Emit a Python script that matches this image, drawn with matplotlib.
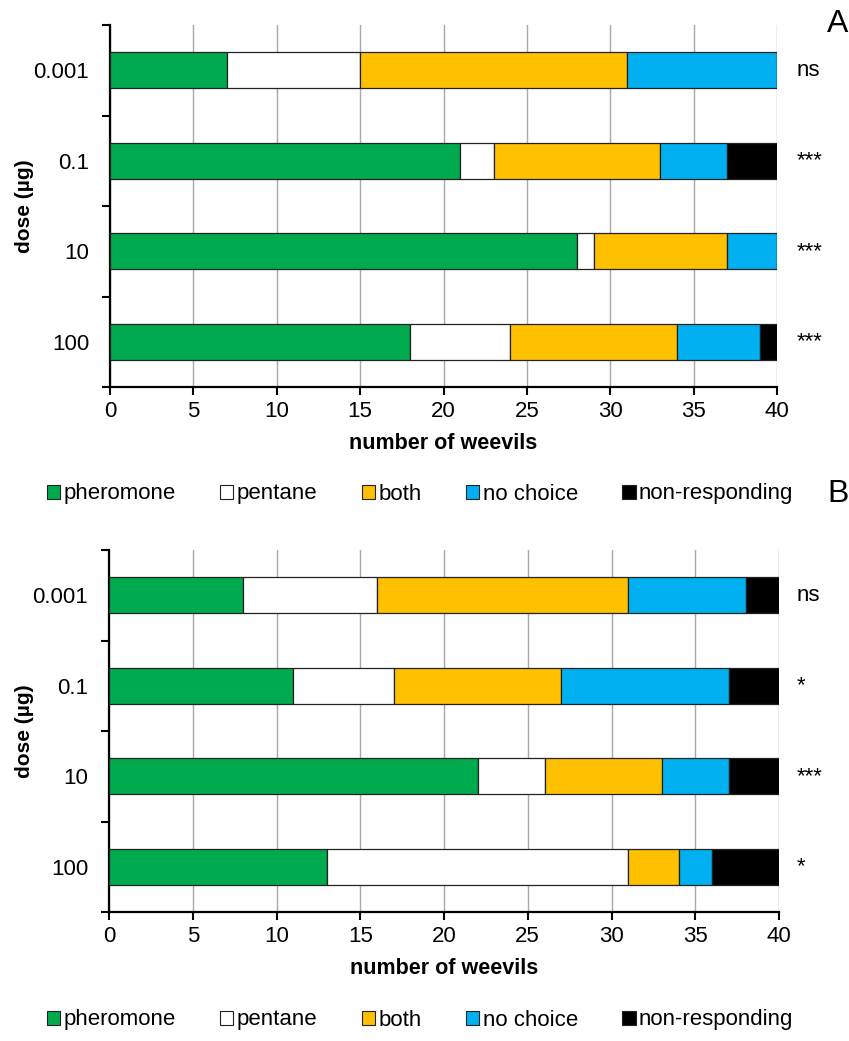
import matplotlib
matplotlib.use("Agg")
import matplotlib.pyplot as plt
import matplotlib.transforms as mtransforms
import numpy as np
from matplotlib.patches import Patch

plt.rcParams['font.family'] = ['Liberation Sans', 'DejaVu Sans']

doses = ["0.001", "0.1", "10", "100"]
categories = ["pheromone", "pentane", "both", "no choice", "non-responding"]
colors = ["#00AA4E", "#FFFFFF", "#FFC000", "#00B0F0", "#000000"]

# Panel A
A_pheromone = [7, 21, 28, 18]
A_pentane = [8, 2, 1, 6]
A_both = [16, 10, 8, 10]
A_nochoice = [9, 4, 3, 5]
A_nonresp = [0, 3, 0, 1]
A_sig = ["ns", "***", "***", "***"]

# Panel B
B_pheromone = [8, 11, 22, 13]
B_pentane = [8, 6, 4, 18]
B_both = [15, 10, 7, 3]
B_nochoice = [7, 10, 4, 2]
B_nonresp = [2, 3, 3, 4]
B_sig = ["ns", "*", "***", "*"]

xticks = [0, 5, 10, 15, 20, 25, 30, 35, 40]

W, H = 849, 1041
fig = plt.figure(figsize=(W / 100, H / 100), dpi=100)


def panel(rect, series, sig, letter, letter_y, legend_y):
    ax = fig.add_axes(rect)
    y = np.arange(len(doses))
    left = np.zeros(len(doses))
    for vals, c in zip(series, colors):
        vals = np.array(vals, dtype=float)
        ax.barh(y, vals, left=left, height=0.4, color=c, edgecolor="#222222",
                linewidth=0.9, zorder=3)
        left += vals
    ax.set_xlim(0, 40)
    ax.set_ylim(3.5, -0.5)
    ax.set_xticks(xticks)
    ax.set_xticklabels([str(t) for t in xticks], fontsize=16)
    ax.xaxis.grid(True, color="#a8a8a8", linewidth=1.0, zorder=0)
    ax.set_axisbelow(True)
    ax.set_yticks([-0.5, 0.5, 1.5, 2.5, 3.5])
    ax.set_yticklabels([])
    ax.set_yticks(y, minor=True)
    ax.set_yticklabels(doses, minor=True, fontsize=16)
    ax.tick_params(axis="y", which="minor", length=0, pad=15)
    ax.tick_params(axis="y", which="major", length=6, width=1.5, direction="out")
    ax.tick_params(axis="x", length=6, width=1.5, direction="out", pad=4)
    for s in ["top", "right"]:
        ax.spines[s].set_visible(False)
    for s in ["left", "bottom"]:
        ax.spines[s].set_linewidth(1.6)
    ax.set_xlabel("number of weevils", fontsize=15.5, fontweight="bold", labelpad=8)
    ax.set_ylabel("dose (µg)", fontsize=15, fontweight="bold")
    ax.yaxis.set_label_coords((34 - rect[0] * W) / (rect[2] * W), 0.5)
    trans = mtransforms.blended_transform_factory(fig.transFigure, ax.transData)
    for yi, s in zip(y, sig):
        ax.text(797 / W, yi, s, transform=trans, fontsize=16, va="center", ha="left")
    fig.text(838 / W, letter_y, letter, fontsize=23, ha="center", va="center")
    handles = [Patch(facecolor=c, edgecolor="#222222", linewidth=0.8) for c in colors]
    fig.legend(handles, categories, loc="center", bbox_to_anchor=(420 / W, legend_y),
               ncol=5, frameon=False, fontsize=16, handlelength=0.6,
               handleheight=0.6, handletextpad=0.15, columnspacing=2.0)
    return ax


panel([110 / W, 1 - 387 / H, 667 / W, 362 / H],
      [A_pheromone, A_pentane, A_both, A_nochoice, A_nonresp], A_sig,
      "A", 1 - 24 / H, 1 - 494 / H)
panel([109 / W, 1 - 912 / H, 670 / W, 362 / H],
      [B_pheromone, B_pentane, B_both, B_nochoice, B_nonresp], B_sig,
      "B", 1 - 494 / H, 1 - 1020 / H)

fig.savefig("out.png", dpi=100)
